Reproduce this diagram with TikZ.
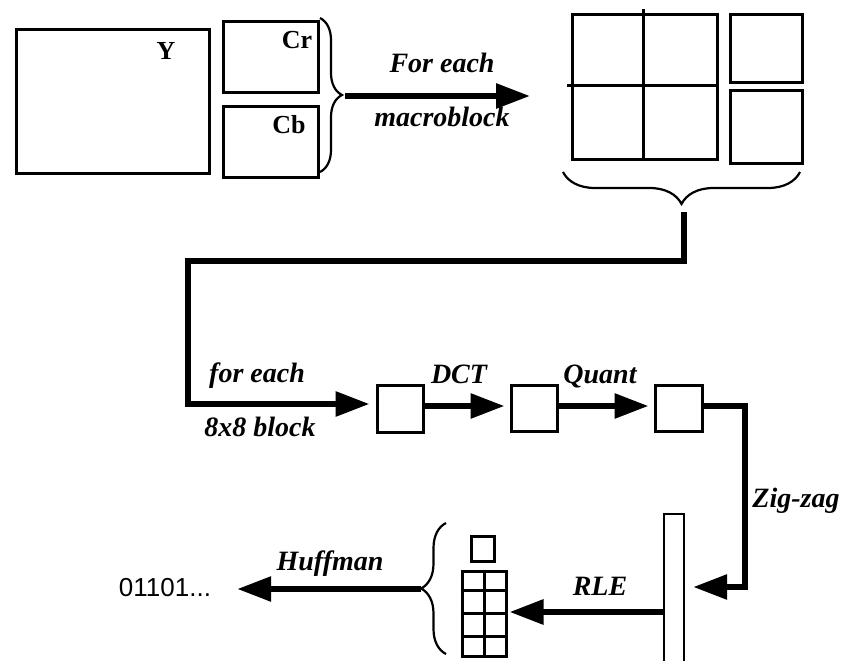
\documentclass[tikz,border=0pt]{standalone}
\usepackage{fontspec}
\setmainfont{Liberation Serif}
\setsansfont{Liberation Sans}
\usetikzlibrary{arrows.meta,decorations.pathreplacing}
\tikzset{
  box/.style={draw=black, line width=3pt, fill=none, inner sep=0pt, anchor=north west},
  thinbox/.style={draw=black, line width=2.2pt, inner sep=0pt, anchor=north west},
  flow/.style={draw=black, line width=6pt, line join=miter, -{Triangle[length=34pt,width=24pt]}},
  plainflow/.style={draw=black, line width=6pt, line join=miter},
  lab/.style={font=\fontsize{28}{30}\selectfont\bfseries\itshape, inner sep=0pt, anchor=base},
  plane/.style={font=\fontsize{26}{28}\selectfont\bfseries, inner sep=0pt, anchor=base},
  bits/.style={font=\fontsize{26}{28}\selectfont\sffamily, inner sep=0pt, anchor=base},
  curly/.style={draw=black, line width=2.2pt, decorate, decoration={brace, amplitude=#1}},
}
\begin{document}
\begin{tikzpicture}[x=1pt,y=-1pt]
\useasboundingbox (0,0) rectangle (844,661);
% --- picture planes
\node[box, minimum width=193pt, minimum height=143pt] (ybox) at (14.5,28.5) {};
\node[box, minimum width=95pt, minimum height=71pt] (crbox) at (221.5,20.5) {};
\node[box, minimum width=95pt, minimum height=70pt] (cbbox) at (221.5,105.5) {};
\node[plane] (ylab) at (166,60) {Y};
\node[plane] (crlab) at (297,49) {Cr};
\node[plane] (cblab) at (289,133) {Cb};
% brace right of Cr/Cb
\coordinate (bA1) at (320,18);
\coordinate (bA2) at (320,172);
\draw[curly=22pt] (bA1) -- (bA2);
\coordinate (tipA) at (345,96);
\coordinate (endA) at (530,96);
\draw[flow] (tipA) -- (endA);
\node[lab] (foreach1) at (442,73) {For each};
\node[lab] (macro) at (442,127) {macroblock};
% --- macroblock
\node[box, minimum width=145pt, minimum height=144pt] (grid) at (570.5,13.5) {};
\coordinate (gv1) at (643,9);
\coordinate (gv2) at (643,157.5);
\coordinate (gh1) at (567,85.5);
\coordinate (gh2) at (715.5,85.5);
\draw[line width=3pt] (gv1) -- (gv2);
\draw[line width=3pt] (gh1) -- (gh2);
\node[box, minimum width=72pt, minimum height=68pt] (cr8) at (728.5,13.5) {};
\node[box, minimum width=72pt, minimum height=72pt] (cb8) at (728.5,89.5) {};
% brace below macroblock
\coordinate (bB1) at (800,172);
\coordinate (bB2) at (563,172);
\draw[curly=32pt] (bB1) -- (bB2);
\coordinate (tipB) at (684,212);
\coordinate (c1) at (684,261);
\coordinate (c2) at (188,261);
\coordinate (c3) at (188,404);
% --- 8x8 blocks
\node[box, minimum width=46pt, minimum height=47pt] (blk1) at (375.5,383.5) {};
\node[box, minimum width=46pt, minimum height=46pt] (blk2) at (509.5,383.5) {};
\node[box, minimum width=47pt, minimum height=46pt] (blk3) at (653.5,383.5) {};
\draw[flow, shorten >=6pt] (tipB) -- (c1) -- (c2) -- (c3) -- (c3 -| blk1.west);
\node[lab] (foreach2) at (257,382) {for each};
\node[lab] (blocklab) at (260,436) {8x8 block};
\draw[flow, shorten >=5pt] (blk1.east |- 0,406) -- (blk2.west |- 0,406);
\draw[flow, shorten >=5pt] (blk2.east |- 0,406) -- (blk3.west |- 0,406);
\node[lab] (dct) at (459,383) {DCT};
\node[lab] (quant) at (600,383) {Quant};
% --- zig-zag
\node[thinbox, minimum width=20pt, minimum height=170pt] (bar) at (663,513) {};
\coordinate (z1) at (745,406);
\coordinate (z2) at (745,587);
\draw[flow, shorten >=8pt] (blk3.east |- z1) -- (z1) -- (z2) -- (z2 -| bar.east);
\node[lab] (zig) at (796,507) {Zig-zag};
% --- RLE output
\node[box, minimum width=23pt, minimum height=25pt] (dc) at (469.5,534.5) {};
\node[box, minimum width=44pt, minimum height=85pt] (ac) at (460.5,569.5) {};
\draw[line width=3pt] (ac.north) -- (ac.south);
\draw[line width=3pt] ([yshift=-21.25pt]ac.north west) -- ([yshift=-21.25pt]ac.north east);
\draw[line width=3pt] (ac.west) -- (ac.east);
\draw[line width=3pt] ([yshift=21.25pt]ac.south west) -- ([yshift=21.25pt]ac.south east);
\draw[flow, shorten >=2pt] (bar.west |- 0,612) -- (ac.east |- 0,612);
\node[lab] (rle) at (600,595) {RLE};
% brace left of RLE output
\coordinate (bC1) at (446,654);
\coordinate (bC2) at (446,523);
\draw[curly=25pt] (bC1) -- (bC2);
\coordinate (tipC) at (421,589);
\node[bits] (out) at (165,596) {01101...};
\draw[flow, shorten >=26pt] (tipC) -- (out.east |- tipC);
\node[lab] (huff) at (330,570) {Huffman};
\end{tikzpicture}
\end{document}
